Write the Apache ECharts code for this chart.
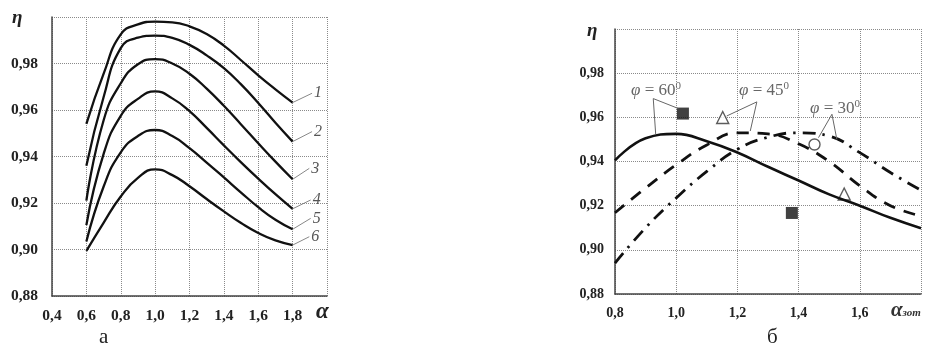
<!DOCTYPE html>
<html>
<head>
<meta charset="utf-8">
<script src="https://cdn.jsdelivr.net/npm/echarts@6/dist/echarts.min.js"></script>
<style>
  html, body { margin: 0; padding: 0; background: #fff; }
  #main { width: 938px; height: 349px; }
</style>
</head>
<body>
<div id="main"></div>
<script>
// chart a: eta vs alpha, curves 1..6
const alphaA = [0.6, 0.7, 0.8, 0.9, 1.0, 1.1, 1.2, 1.3, 1.4, 1.5, 1.6, 1.7, 1.8];
const curve1 = [0.954, 0.9755, 0.9925, 0.9968, 0.998, 0.9977, 0.996, 0.9927, 0.9877, 0.9814, 0.9749, 0.9689, 0.9632];
const curve2 = [0.936, 0.9655, 0.9866, 0.9911, 0.992, 0.991, 0.988, 0.9835, 0.978, 0.971, 0.963, 0.9545, 0.9464];
const curve3 = [0.921, 0.9555, 0.9715, 0.9797, 0.9819, 0.980, 0.9756, 0.9692, 0.9618, 0.9538, 0.9457, 0.9378, 0.9302];
const curve4 = [0.9105, 0.941, 0.9575, 0.9648, 0.968, 0.965, 0.9595, 0.9523, 0.9448, 0.9375, 0.9305, 0.9238, 0.9175];
const curve5 = [0.9034, 0.927, 0.9418, 0.9488, 0.9514, 0.9488, 0.9436, 0.9374, 0.931, 0.9245, 0.9182, 0.9128, 0.9087];
const curve6 = [0.8994, 0.9115, 0.9228, 0.9308, 0.9345, 0.932, 0.9272, 0.9217, 0.9164, 0.9114, 0.9071, 0.9039, 0.9019];
const curveNames = ['1', '2', '3', '4', '5', '6'];
// leader lines from curve ends to the numbers
const leaderEndX = [1.913, 1.913, 1.897, 1.905, 1.905, 1.897];
const leaderEndY = [0.9672, 0.9507, 0.9349, 0.9213, 0.9134, 0.9055];

// chart б: eta vs alpha_зот for phi = 60, 45, 30
const alphaB = [0.8, 0.9, 1.0, 1.1, 1.2, 1.3, 1.4, 1.5, 1.6, 1.7, 1.8];
const phi60 = [0.9405, 0.9505, 0.9525, 0.9492, 0.9441, 0.9376, 0.9314, 0.9251, 0.9200, 0.9145, 0.9098];
const phi45 = [0.9168, 0.928, 0.9385, 0.9475, 0.953, 0.9525, 0.948, 0.940, 0.929, 0.920, 0.9153];
const phi30 = [0.894, 0.910, 0.9235, 0.9355, 0.9455, 0.951, 0.953, 0.9515, 0.944, 0.935, 0.927];
// experimental points
const squarePts = [[1.022, 0.9617], [1.378, 0.9167]];
const trianglePts = [[1.152, 0.9599], [1.549, 0.9253]];
const circlePts = [[1.452, 0.9477]];
// annotation brackets (data coords)
const bracket60 = [[0.933, 0.9523], [0.925, 0.9685], [1.007, 0.964]];
const bracket45 = [[1.242, 0.9538], [1.2635, 0.967], [1.165, 0.9606]];
const bracket30 = [[1.465, 0.9508], [1.509, 0.9614], [1.525, 0.950]];

const SERIF = '"Liberation Serif", "DejaVu Serif", serif';

window.onload = function () {
  const chart = echarts.init(document.getElementById('main'));
  const zip = (xs, ys) => xs.map((x, i) => [x, ys[i]]);
  const curves = [curve1, curve2, curve3, curve4, curve5, curve6];

  const fmt = (d, hide) => v => (Math.abs(v - hide) < 1e-6 ? '' : v.toFixed(d).replace('.', ','));
  const axisLabel = (d, hide, margin, size) => ({
    formatter: fmt(d, hide), fontFamily: SERIF, fontWeight: 'bold', fontSize: size, color: '#222', margin: margin
  });
  const split = { show: true, lineStyle: { type: 'dotted', color: '#8a8a8a', width: 1 } };
  const axLine = { show: true, lineStyle: { color: '#444', width: 1.5 } };

  let series = [];
  curves.forEach((c, i) => {
    series.push({
      type: 'line', xAxisIndex: 0, yAxisIndex: 0, data: zip(alphaA, c),
      smooth: 0.5, symbol: 'none', lineStyle: { color: '#111', width: 2.3 }, silent: true
    });
    series.push({
      type: 'line', xAxisIndex: 0, yAxisIndex: 0,
      data: [[1.8, c[c.length - 1]], [leaderEndX[i], leaderEndY[i]]],
      symbol: 'none', lineStyle: { color: '#888', width: 1 }, silent: true,
      endLabel: {
        show: true, formatter: curveNames[i], distance: 2,
        fontFamily: SERIF, fontStyle: 'italic', fontSize: 16, color: '#555'
      }
    });
  });

  series.push(
    {
      type: 'line', xAxisIndex: 1, yAxisIndex: 1, data: zip(alphaB, phi60),
      smooth: 0.45, symbol: 'none', lineStyle: { color: '#111', width: 2.6 }
    },
    {
      type: 'line', xAxisIndex: 1, yAxisIndex: 1, data: zip(alphaB, phi45),
      smooth: 0.45, symbol: 'none', lineStyle: { color: '#111', width: 2.8, type: [12, 9] }
    },
    {
      type: 'line', xAxisIndex: 1, yAxisIndex: 1, data: zip(alphaB, phi30),
      smooth: 0.45, symbol: 'none', lineStyle: { color: '#111', width: 2.8, type: [13, 7, 2.5, 7] }
    }
  );
  [bracket60, bracket45, bracket30].forEach(b => {
    series.push({
      type: 'line', xAxisIndex: 1, yAxisIndex: 1, data: b,
      symbol: 'none', lineStyle: { color: '#666', width: 1 }
    });
  });
  series.push(
    {
      type: 'scatter', xAxisIndex: 1, yAxisIndex: 1, data: squarePts,
      symbol: 'rect', symbolSize: 12, itemStyle: { color: '#111' }
    },
    {
      type: 'scatter', xAxisIndex: 1, yAxisIndex: 1, data: trianglePts,
      symbol: 'triangle', symbolSize: 12,
      itemStyle: { color: '#fff', borderColor: '#333', borderWidth: 1.4 }
    },
    {
      type: 'scatter', xAxisIndex: 1, yAxisIndex: 1, data: circlePts,
      symbol: 'circle', symbolSize: 11,
      itemStyle: { color: '#fff', borderColor: '#333', borderWidth: 1.4 }
    }
  );

  const phiText = (txt, x, y) => ({
    type: 'text', left: x, top: y,
    style: {
      text: '{f|φ} = ' + txt + '{s|0}',
      fontFamily: SERIF, fontSize: 17, fill: '#666',
      rich: {
        f: { fontFamily: SERIF, fontStyle: 'italic', fontSize: 17, fill: '#666' },
        s: { fontFamily: SERIF, fontSize: 11, fill: '#666', verticalAlign: 'top', padding: [0, 0, 9, 0] }
      }
    }
  });

  const option = {
    animation: false,
    grid: [
      { left: 52, top: 17, width: 275, height: 279 },
      { left: 615, top: 29, width: 306, height: 265 }
    ],
    xAxis: [
      {
        gridIndex: 0, type: 'value', min: 0.4, max: 2.0, interval: 0.2,
        axisLine: axLine, axisTick: { show: false }, splitLine: split,
        axisLabel: axisLabel(1, 2.0, 12, 15.5)
      },
      {
        gridIndex: 1, type: 'value', min: 0.8, max: 1.8, interval: 0.2,
        axisLine: axLine, axisTick: { show: false }, splitLine: split,
        axisLabel: axisLabel(1, 1.8, 12, 14)
      }
    ],
    yAxis: [
      {
        gridIndex: 0, type: 'value', min: 0.88, max: 1.0, interval: 0.02,
        axisLine: axLine, axisTick: { show: false }, splitLine: split,
        axisLabel: axisLabel(2, 1.0, 14, 15.5)
      },
      {
        gridIndex: 1, type: 'value', min: 0.88, max: 1.0, interval: 0.02,
        axisLine: axLine, axisTick: { show: false }, splitLine: split,
        axisLabel: axisLabel(2, 1.0, 11, 14)
      }
    ],
    graphic: [
      {
        type: 'text', left: 12, top: 9,
        style: { text: 'η', fontFamily: SERIF, fontStyle: 'italic', fontWeight: 'bold', fontSize: 19, fill: '#222' }
      },
      {
        type: 'text', left: 316, top: 301,
        style: { text: 'α', fontFamily: SERIF, fontStyle: 'italic', fontWeight: 'bold', fontSize: 23, fill: '#222' }
      },
      {
        type: 'text', left: 99, top: 327,
        style: { text: 'а', fontFamily: SERIF, fontSize: 21, fill: '#222' }
      },
      {
        type: 'text', left: 587, top: 22,
        style: { text: 'η', fontFamily: SERIF, fontStyle: 'italic', fontWeight: 'bold', fontSize: 19, fill: '#222' }
      },
      {
        type: 'text', left: 891, top: 300,
        style: {
          text: '{a|α}{b|зот}', fontFamily: SERIF,
          rich: {
            a: { fontFamily: SERIF, fontStyle: 'italic', fontWeight: 'bold', fontSize: 21, fill: '#333' },
            b: { fontFamily: SERIF, fontStyle: 'italic', fontWeight: 'bold', fontSize: 11, fill: '#333', padding: [6, 0, 0, 0] }
          }
        }
      },
      {
        type: 'text', left: 767, top: 327,
        style: { text: 'б', fontFamily: SERIF, fontSize: 21, fill: '#222' }
      },
      phiText('60', 631, 81),
      phiText('45', 739, 81),
      phiText('30', 810, 99)
    ],
    series: series
  };
  chart.setOption(option);
};
</script>
</body>
</html>
